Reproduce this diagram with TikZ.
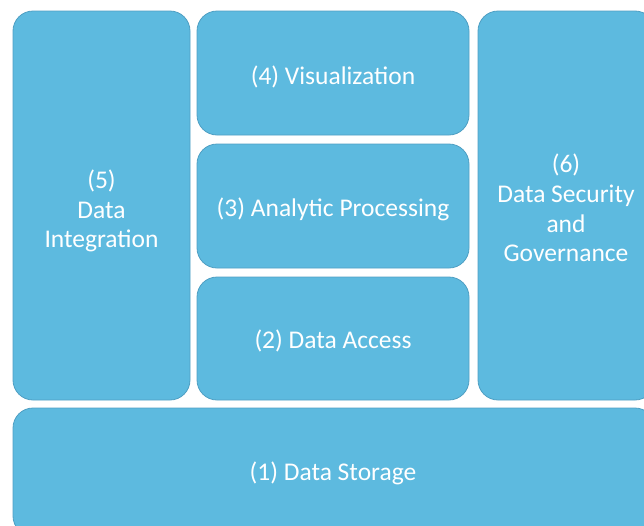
\documentclass[tikz,border=0pt]{standalone}
\usepackage{fontspec}
\setmainfont{Carlito}
\definecolor{tile}{HTML}{5DBADF}
\definecolor{tileedge}{HTML}{4F9FC3}
\begin{document}
\begin{tikzpicture}[x=1pt,y=-1pt,
  tile/.style={draw=tileedge,line width=0.8pt,fill=tile,rounded corners=20pt},
  lbl/.style={text=white,align=center,font=\fontsize{25.5}{29.8}\selectfont}]
\useasboundingbox (0,0) rectangle (644,525);
\clip (0,0) rectangle (644,525);
% layered blocks
\draw[tile] (13,11) rectangle (190,400);
\draw[tile] (197,11) rectangle (469,135);
\draw[tile] (197,144) rectangle (469,268);
\draw[tile] (197,277) rectangle (469,400);
\draw[tile] (478,11) rectangle (655,400);
\draw[tile] (13,408) rectangle (655,536);
% labels
\node[lbl] (n5) at (101.5,211) {(5)\\Data\\Integration};
\node[lbl] (n4) at (333,77) {(4) Visualization};
\node[lbl] (n3) at (333,209) {(3) Analytic Processing};
\node[lbl] (n2) at (333,341) {(2) Data Access};
\node[lbl] (n6) at (566,208) {(6)\\Data Security\\and\\Governance};
\node[lbl] (n1) at (333,473) {(1) Data Storage};
\end{tikzpicture}
\end{document}
